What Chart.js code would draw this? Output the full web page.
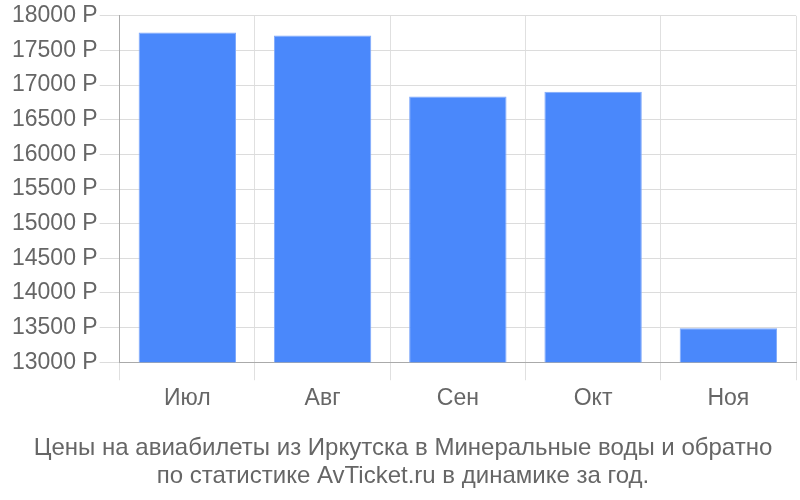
<!DOCTYPE html>
<html><head><meta charset="utf-8">
<script src="https://cdn.jsdelivr.net/npm/chart.js@4/dist/chart.umd.min.js"></script>
<style>html,body{margin:0;padding:0;background:#fff}#w{width:800px;height:500px}</style>
</head><body><div id="w"><canvas id="c" width="800" height="500"></canvas></div>
<script>
const categories = ["Июл", "Авг", "Сен", "Окт", "Ноя"];
const prices = [17760, 17715, 16835, 16905, 13490];
const yTicks = [13000, 13500, 14000, 14500, 15000, 15500, 16000, 16500, 17000, 17500, 18000];
const titleLines = ["Цены на авиабилеты из Иркутска в Минеральные воды и обратно", "по статистике AvTicket.ru в динамике за год."];

Chart.defaults.font.family = "'Liberation Sans', Arial, sans-serif";
new Chart(document.getElementById('c'), {
  type: 'bar',
  data: {
    labels: categories,
    datasets: [{
      data: prices,
      backgroundColor: '#4a88fb',
      borderColor: '#7fa9fb',
      borderWidth: 1
    }]
  },
  options: {
    responsive: false,
    animation: false,
    layout: { padding: { left: 10, right: 4, top: 2, bottom: 10 } },
    plugins: {
      legend: { display: false },
      tooltip: { enabled: false },
      title: {
        display: true,
        position: 'bottom',
        text: titleLines,
        color: '#666',
        font: { size: 24, weight: 'normal', lineHeight: 1.17 },
        padding: { top: 16, bottom: 0 }
      }
    },
    scales: {
      x: {
        grid: { color: '#e0e0e0', tickLength: 18, offset: true },
        border: { color: '#aaa' },
        ticks: { color: '#666', font: { size: 23 }, padding: 5 }
      },
      y: {
        min: yTicks[0],
        max: yTicks[yTicks.length - 1],
        afterBuildTicks: (axis) => { axis.ticks = yTicks.map(v => ({ value: v })); },
        grid: { color: '#dcdcdc', tickLength: 20 },
        border: { color: '#aaa' },
        ticks: { color: '#666', font: { size: 23 }, padding: 2, callback: v => v + ' Р' }
      }
    }
  }
});
</script>
</body></html>
